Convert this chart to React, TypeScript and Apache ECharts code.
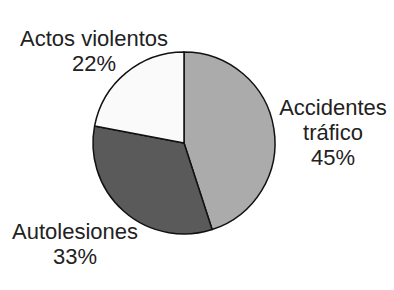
import React, { useEffect, useRef } from "react";
import * as echarts from "echarts";

const categories = ["Accidentes\ntráfico", "Autolesiones", "Actos violentos"];
const values = [45, 33, 22];
const colors = ["#ababab", "#5a5a5a", "#fafafa"];
const labelPos: [number, number][] = [
  [333, 132],
  [75, 244],
  [94, 51],
];

export default function App() {
  const ref = useRef<HTMLDivElement>(null);
  useEffect(() => {
    if (!ref.current) return;
    const chart = echarts.init(ref.current, undefined, { renderer: "svg" });
    chart.setOption({
      animation: false,
      backgroundColor: "#ffffff",
      series: [
        {
          type: "pie",
          center: [184, 143],
          radius: 91,
          startAngle: 90,
          clockwise: true,
          silent: true,
          data: categories.map((c, i) => ({
            name: c,
            value: values[i],
            itemStyle: { color: colors[i] },
          })),
          itemStyle: { borderColor: "#111", borderWidth: 1.5 },
          label: {
            show: true,
            position: "outside",
            formatter: (p: any) => `${p.name}\n${p.value}%`,
            fontFamily: "Liberation Sans, Arial, sans-serif",
            fontSize: 22,
            lineHeight: 25,
            color: "#222",
            align: "center",
            overflow: "none",
            width: 200,
          },
          labelLine: { show: false },
          labelLayout: (params: any) => {
            const pos = labelPos[params.dataIndex];
            return {
              x: pos[0],
              y: pos[1],
              align: "center",
              verticalAlign: "middle",
            };
          },
        },
      ],
    });
    return () => chart.dispose();
  }, []);
  return (
    <div
      ref={ref}
      style={{ position: "fixed", left: 0, top: 0, width: 394, height: 290 }}
    />
  );
}
